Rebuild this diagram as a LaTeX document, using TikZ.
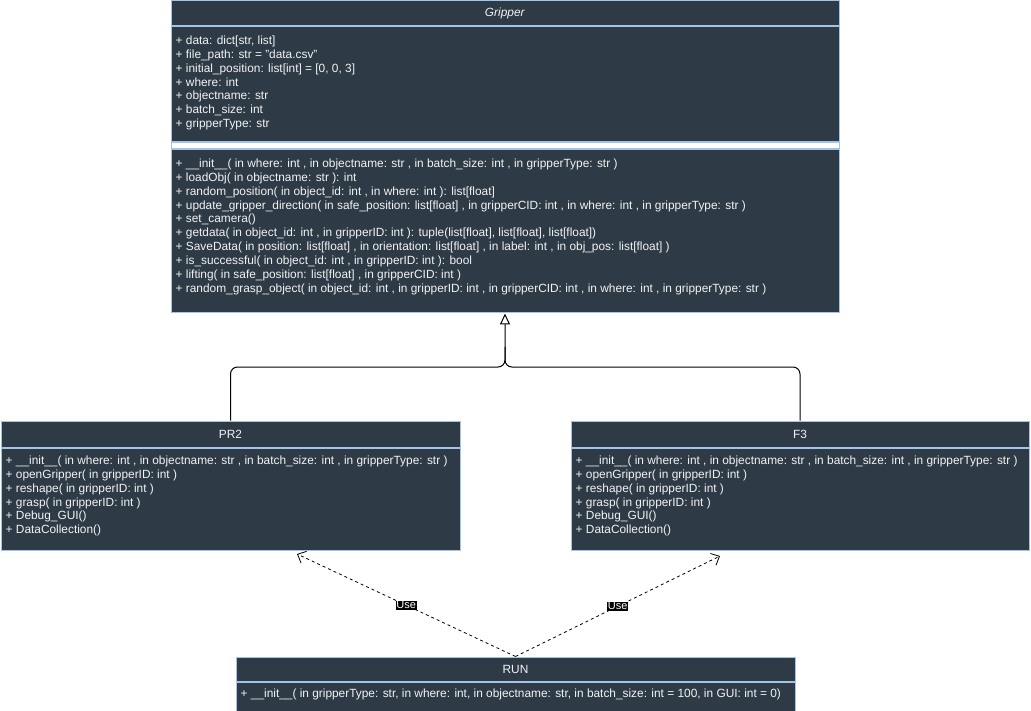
\documentclass[tikz,border=0pt]{standalone}
\usepackage{fontspec}
\setmainfont{Liberation Sans}
\usetikzlibrary{arrows.meta, positioning}

\definecolor{boxfill}{HTML}{2E3B47}
\definecolor{boxline}{HTML}{A3C4E6}
\definecolor{boxtext}{HTML}{F2F2F2}

\tikzset{
  classhead/.style={draw=boxline, fill=boxfill, line width=1pt, inner sep=0pt, text=boxtext},
  classpart/.style={draw=boxline, fill=boxfill, line width=1pt, inner sep=0pt},
  sepband/.style={draw=boxline, fill=white, line width=1pt, inner sep=0pt},
  members/.style={anchor=north west, align=left, inner sep=0pt, text=boxtext},
  inherit/.style={draw=black, line width=1pt, rounded corners=7pt},
  uses/.style={draw=black, line width=0.8pt, dash pattern=on 3pt off 3pt, -{Straight Barb[length=7pt,width=13pt]}},
  uselabel/.style={fill=black, text=white, inner sep=0.6pt, font=\fontsize{11}{12}\selectfont},
}

\begin{document}
\begin{tikzpicture}[x=1pt, y=-1pt, font=\fontsize{11.88}{13.9}\selectfont]
    \fill[white] (0,0) rectangle (1031,711);
    \useasboundingbox (0,0) rectangle (1031,711);

    % 1. Lớp Gripper
    \node[classhead, minimum width=668pt, minimum height=25pt] (gripperHead) at (505,13.5) {\textit{Gripper}};
    \node[classpart, minimum width=668pt, minimum height=115pt, below=0pt of gripperHead] (gripperAttr) {};
    \node[sepband, minimum width=668pt, minimum height=6pt, below=0pt of gripperAttr] (gripperSep) {};
    \node[classpart, minimum width=668pt, minimum height=163pt, below=0pt of gripperSep] (gripperOps) {};
    \node[members] (gripperAttrText) at ([xshift=5pt, yshift=-9pt]gripperAttr.north west) {%
        + data: dict[str, list]\\
        + file\_path: str = "data.csv"\\
        + initial\_position: list[int] = [0, 0, 3]\\
        + where: int\\
        + objectname: str\\
        + batch\_size: int\\
        + gripperType: str};
    \node[members] (gripperOpsText) at ([xshift=5pt, yshift=-9pt]gripperOps.north west) {%
        + \_\_init\_\_( in where: int , in objectname: str , in batch\_size: int , in gripperType: str )\\
        + loadObj( in objectname: str ): int\\
        + random\_position( in object\_id: int , in where: int ): list[float]\\
        + update\_gripper\_direction( in safe\_position: list[float] , in gripperCID: int , in where: int , in gripperType: str )\\
        + set\_camera()\\
        + getdata( in object\_id: int , in gripperID: int ): tuple(list[float], list[float], list[float])\\
        + SaveData( in position: list[float] , in orientation: list[float] , in label: int , in obj\_pos: list[float] )\\
        + is\_successful( in object\_id: int , in gripperID: int ): bool\\
        + lifting( in safe\_position: list[float] , in gripperCID: int )\\
        + random\_grasp\_object( in object\_id: int , in gripperID: int , in gripperCID: int , in where: int , in gripperType: str )};

    % 2. Lớp PR2 và F3
    \node[classhead, minimum width=459pt, minimum height=26pt] (pr2Head) at (230.5,434) {PR2};
    \node[classpart, minimum width=459pt, minimum height=102pt, below=0pt of pr2Head] (pr2Ops) {};
    \node[members] (pr2OpsText) at ([xshift=5pt, yshift=-8pt]pr2Ops.north west) {%
        + \_\_init\_\_( in where: int , in objectname: str , in batch\_size: int , in gripperType: str )\\
        + openGripper( in gripperID: int )\\
        + reshape( in gripperID: int )\\
        + grasp( in gripperID: int )\\
        + Debug\_GUI()\\
        + DataCollection()};

    \node[classhead, minimum width=458pt, minimum height=26pt] (f3Head) at (800,434) {F3};
    \node[classpart, minimum width=458pt, minimum height=102pt, below=0pt of f3Head] (f3Ops) {};
    \node[members] (f3OpsText) at ([xshift=5pt, yshift=-8pt]f3Ops.north west) {%
        + \_\_init\_\_( in where: int , in objectname: str , in batch\_size: int , in gripperType: str )\\
        + openGripper( in gripperID: int )\\
        + reshape( in gripperID: int )\\
        + grasp( in gripperID: int )\\
        + Debug\_GUI()\\
        + DataCollection()};

    % 3. Lớp RUN
    \node[classhead, minimum width=559pt, minimum height=24pt] (runHead) at (515.5,669) {RUN};
    \node[classpart, minimum width=559pt, minimum height=29pt, below=0pt of runHead] (runOps) {};
    \node[members] (runOpsText) at ([xshift=5pt, yshift=-7pt]runOps.north west) {%
        + \_\_init\_\_( in gripperType: str, in where: int, in objectname: str, in batch\_size: int = 100, in GUI: int = 0)};

    % 4. Kế thừa
    \coordinate (joint) at (505,367);
    \draw[inherit, -{Triangle[open, length=11pt, width=10pt]}] (pr2Head.north) |- (joint) -- (gripperOps.south);
    \draw[inherit] (f3Head.north) |- (joint) -- ++(0,-20);

    % 5. Quan hệ sử dụng
    \coordinate (pr2Use) at (297,554);
    \coordinate (f3Use) at (720,556);
    \draw[uses] (runHead.north) -- node[uselabel] (useLeft) {Use} (pr2Use);
    \draw[uses] (runHead.north) -- node[uselabel] (useRight) {Use} (f3Use);
\end{tikzpicture}
\end{document}
